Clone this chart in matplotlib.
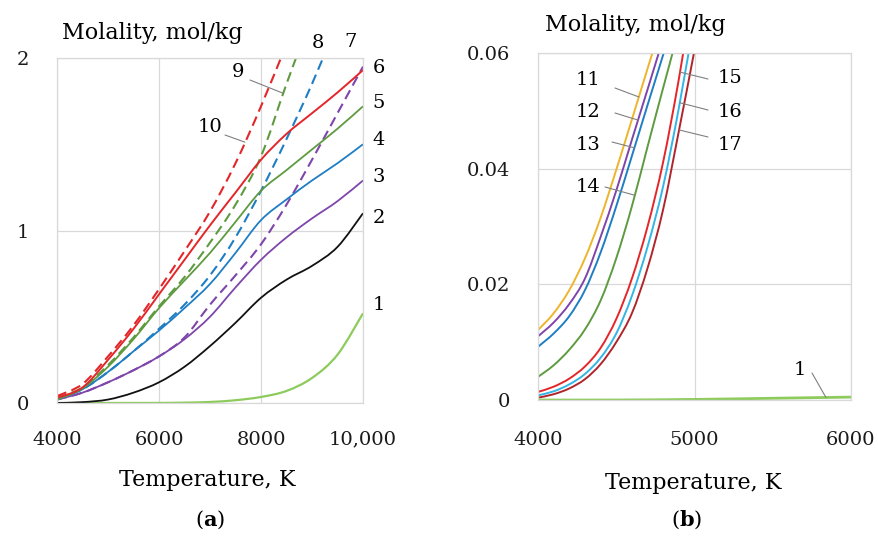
import numpy as np
import matplotlib
matplotlib.use("Agg")
import matplotlib.pyplot as plt
from matplotlib.path import Path
from matplotlib.patches import PathPatch

plt.rcParams['font.family'] = ['DejaVu Serif']
plt.rcParams['mathtext.fontset'] = 'dejavuserif'

# ---------------- data: panel (a), 4000-10000 K ----------------
temp_a = [4000, 4500, 5000, 5500, 6000, 6500, 7000, 7500, 8000, 8500, 9000, 9500, 10000]
curve_1 = [0.0, 0.0, 0.0001, 0.0003, 0.0005, 0.002, 0.006, 0.016, 0.035, 0.07, 0.145, 0.28, 0.52]
curve_2 = [0.0, 0.005, 0.02, 0.06, 0.12, 0.21, 0.33, 0.465, 0.61, 0.715, 0.795, 0.905, 1.10]
curve_3 = [0.02, 0.06, 0.12, 0.19, 0.27, 0.37, 0.50, 0.67, 0.83, 0.96, 1.07, 1.17, 1.29]
curve_4 = [0.02, 0.08, 0.18, 0.30, 0.42, 0.55, 0.69, 0.87, 1.06, 1.18, 1.29, 1.39, 1.50]
curve_5 = [0.02, 0.085, 0.21, 0.37, 0.55, 0.71, 0.87, 1.05, 1.23, 1.35, 1.47, 1.59, 1.72]
curve_6 = [0.03, 0.09, 0.25, 0.43, 0.63, 0.83, 1.03, 1.22, 1.41, 1.56, 1.68, 1.80, 1.93]
curve_7 = [0.02, 0.06, 0.12, 0.19, 0.27, 0.38, 0.57, 0.74, 0.92, 1.15, 1.41, 1.68, 1.95]
curve_8 = [0.025, 0.08, 0.18, 0.30, 0.43, 0.57, 0.74, 0.96, 1.23, 1.53, 1.85, 2.20]
curve_9 = [0.03, 0.09, 0.22, 0.38, 0.56, 0.73, 0.93, 1.15, 1.43, 1.85, 2.25]
curve_10 = [0.04, 0.11, 0.27, 0.45, 0.66, 0.88, 1.11, 1.39, 1.72, 2.08]

# ---------------- data: panel (b), 4000-6000 K ----------------
temp_b = [4000, 4100, 4200, 4300, 4400, 4500, 4600, 4700, 4800, 4900, 5000, 5100]
curve_11 = [0.0121, 0.0150, 0.0190, 0.0245, 0.0315, 0.0398, 0.0485, 0.0573, 0.0660]
curve_12 = [0.0110, 0.0134, 0.0166, 0.0210, 0.0282, 0.0362, 0.0450, 0.0537, 0.0625]
curve_13 = [0.0092, 0.0115, 0.0145, 0.0190, 0.0255, 0.0335, 0.0422, 0.0510, 0.0597, 0.0685]
curve_14 = [0.0040, 0.0060, 0.0087, 0.0122, 0.0172, 0.0245, 0.0335, 0.0438, 0.0540, 0.0640]
curve_15 = [0.0014, 0.0023, 0.0037, 0.0058, 0.0090, 0.0140, 0.0210, 0.0300, 0.0412, 0.0555, 0.0720]
curve_16 = [0.0008, 0.0015, 0.0027, 0.0045, 0.0073, 0.0115, 0.0180, 0.0265, 0.0370, 0.0505, 0.0660]
curve_17 = [0.0004, 0.0010, 0.0020, 0.0036, 0.0062, 0.0100, 0.0150, 0.0228, 0.0330, 0.0465, 0.0605, 0.0750]

RED = '#E3262A'
GREEN = '#5E9A40'
BLUE = '#1F7EC3'
PURPLE = '#7E45AA'
BLACK = '#111111'
LIGHT_GREEN = '#8DCB5C'
YELLOW = '#EDB52B'
CYAN = '#33B5E5'
DARK_RED = '#B0252C'
GRID = '#D9D9D9'
LEADER = '#808080'

W, H = 879, 536


def fx(px):
    return px / W


def fy(py):
    return 1 - py / H


def smooth_curve(ax, x, y, **kw):
    """Draw a Catmull-Rom style smoothed line through the points as Bezier segments."""
    x = np.asarray(x, float)
    y = np.asarray(y, float)
    n = len(x)
    verts = [(x[0], y[0])]
    codes = [Path.MOVETO]
    for i in range(n - 1):
        x0, y0 = (x[i - 1], y[i - 1]) if i > 0 else (x[i], y[i])
        x3, y3 = (x[i + 2], y[i + 2]) if i + 2 < n else (x[i + 1], y[i + 1])
        c1 = (x[i] + (x[i + 1] - x0) / 6, y[i] + (y[i + 1] - y0) / 6)
        c2 = (x[i + 1] - (x3 - x[i]) / 6, y[i + 1] - (y3 - y[i]) / 6)
        verts += [c1, c2, (x[i + 1], y[i + 1])]
        codes += [Path.CURVE4] * 3
    patch = PathPatch(Path(verts, codes), fill=False, capstyle='butt', **kw)
    ax.add_patch(patch)
    return patch


fig = plt.figure(figsize=(W / 100, H / 100), dpi=100)
axL = fig.add_axes([fx(57), fy(403), 306 / W, 345 / H])
axR = fig.add_axes([fx(538), fy(400), 313 / W, 347 / H])

for ax in (axL, axR):
    ax.grid(True, color=GRID, lw=0.9)
    ax.set_axisbelow(True)
    for sp in ax.spines.values():
        sp.set_color(GRID)
        sp.set_linewidth(0.9)
    ax.tick_params(length=0, labelsize=14, colors='#1a1a1a')

# ---------------- panel (a) ----------------
solid_a = [(curve_1, LIGHT_GREEN, 1.6), (curve_2, BLACK, 1.3), (curve_3, PURPLE, 1.3),
           (curve_4, BLUE, 1.3), (curve_5, GREEN, 1.3), (curve_6, RED, 1.4)]
dashed_a = [(curve_7, PURPLE), (curve_8, BLUE), (curve_9, GREEN), (curve_10, RED)]

for vals, col in dashed_a:
    smooth_curve(axL, temp_a[:len(vals)], vals, edgecolor=col, lw=1.5,
                 linestyle=(0, (4.8, 2.6)))
for vals, col, lw in solid_a:
    smooth_curve(axL, temp_a[:len(vals)], vals, edgecolor=col, lw=lw)

axL.set_xlim(4000, 10000)
axL.set_ylim(0, 2)
axL.set_xticks([4000, 6000, 8000, 10000])
axL.set_xticklabels(['4000', '6000', '8000', '10,000'])
axL.set_yticks([0, 1, 2])
axL.set_yticklabels(['0', '1', '2'])
axL.tick_params(axis='y', pad=20)
axL.tick_params(axis='x', pad=20)

# curve numbers, panel (a)
for s, x, y in [('6', 379, 68), ('5', 379, 103), ('4', 379, 140), ('3', 379, 177),
                ('2', 379, 218), ('1', 379, 305), ('8', 318, 43), ('7', 351, 42)]:
    fig.text(fx(x), fy(y), s, ha='center', va='center', fontsize=14)
fig.text(fx(238), fy(72), '9', ha='center', va='center', fontsize=14)
fig.text(fx(210), fy(127), '10', ha='center', va='center', fontsize=14)

leader = dict(arrowstyle='-', color=LEADER, lw=0.8, shrinkA=0, shrinkB=0)
t9 = 8435
axL.annotate('', xy=(t9, np.interp(t9, temp_a[:len(curve_9)], curve_9)), xycoords='data',
             xytext=(fx(250), fy(80)), textcoords='figure fraction', arrowprops=leader)
t10 = 7685
axL.annotate('', xy=(t10, np.interp(t10, temp_a[:len(curve_10)], curve_10)), xycoords='data',
             xytext=(fx(225), fy(135)), textcoords='figure fraction', arrowprops=leader)

# ---------------- panel (b) ----------------
series_b = [(curve_11, YELLOW), (curve_12, PURPLE), (curve_13, BLUE), (curve_14, GREEN),
            (curve_15, RED), (curve_16, CYAN), (curve_17, DARK_RED)]
for vals, col in series_b:
    smooth_curve(axR, temp_b[:len(vals)], vals, edgecolor=col, lw=1.4)
smooth_curve(axR, temp_a[:5], curve_1[:5], edgecolor=LIGHT_GREEN, lw=2.0)

axR.set_xlim(4000, 6000)
axR.set_ylim(0, 0.06)
axR.set_xticks([4000, 5000, 6000])
axR.set_xticklabels(['4000', '5000', '6000'])
axR.set_yticks([0, 0.02, 0.04, 0.06])
axR.set_yticklabels(['0', '0.02', '0.04', '0.06'])
axR.tick_params(axis='y', pad=20)
axR.tick_params(axis='x', pad=22)

labels_b = [('11', 588, 80, 615, 88, curve_11), ('12', 588, 112, 615, 113, curve_12),
            ('13', 588, 145, 612, 142, curve_13), ('14', 588, 187, 605, 187, curve_14),
            ('15', 730, 78, 708, 79, curve_15), ('16', 730, 112, 708, 110, curve_16),
            ('17', 730, 145, 708, 137, curve_17)]
targets_b = [0.0524, 0.0484, 0.0436, 0.0354, 0.0567, 0.0514, 0.0467]
for (s, tx, ty, lx, ly, vals), m in zip(labels_b, targets_b):
    fig.text(fx(tx), fy(ty), s, ha='center', va='center', fontsize=14)
    t = np.interp(m, vals, temp_b[:len(vals)])
    axR.annotate('', xy=(t, m), xycoords='data', xytext=(fx(lx), fy(ly)),
                 textcoords='figure fraction', arrowprops=leader)

fig.text(fx(800), fy(370), '1', ha='center', va='center', fontsize=14)
t1 = 5840
axR.annotate('', xy=(t1, np.interp(t1, temp_a[:5], curve_1[:5])), xycoords='data',
             xytext=(fx(812), fy(373)), textcoords='figure fraction', arrowprops=leader)

# ---------------- axis titles and panel tags ----------------
fig.text(fx(62), fy(33), 'Molality, mol/kg', ha='left', va='center', fontsize=16)
fig.text(fx(545), fy(25), 'Molality, mol/kg', ha='left', va='center', fontsize=16)
fig.text(fx(207), fy(480), 'Temperature, K', ha='center', va='center', fontsize=16)
fig.text(fx(693), fy(483), 'Temperature, K', ha='center', va='center', fontsize=16)
fig.text(fx(210), fy(520), r'($\mathbf{a}$)', ha='center', va='center', fontsize=15)
fig.text(fx(687), fy(520), r'($\mathbf{b}$)', ha='center', va='center', fontsize=15)

fig.savefig('out.png', dpi=100)
